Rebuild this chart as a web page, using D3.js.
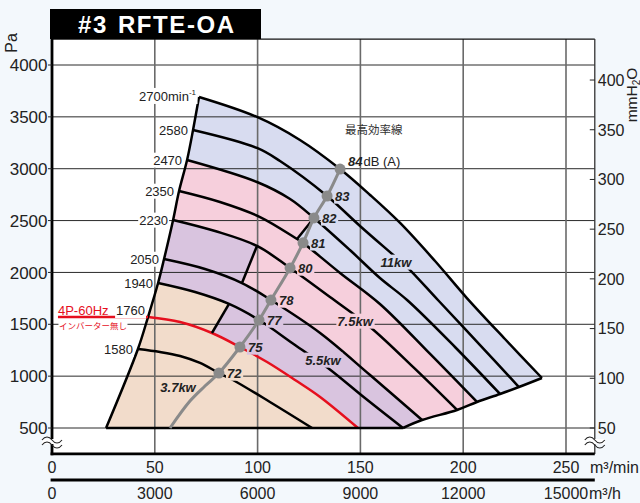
<!DOCTYPE html>
<html><head><meta charset="utf-8">
<script src="https://cdn.jsdelivr.net/npm/d3@7"></script>
<style>
html,body{margin:0;padding:0;background:#f3f8fc;}
svg{display:block;font-family:"Liberation Sans",Arial,Helvetica,sans-serif;}
</style></head><body>
<svg id="c" width="640" height="503"></svg>
<script>
// ---------- data ----------
const title = "#3 RFTE-OA";
const paTicks = [500,1000,1500,2000,2500,3000,3500,4000];
const mmTicks = [50,100,150,200,250,300,350,400];
const flowMinTicks = [0,50,100,150,200,250];
const flowHourTicks = [0,3000,6000,9000,12000,15000];
const speeds = [2700,2580,2470,2350,2230,2050,1940,1760,1580];
// speed curves: [flow m3/min, static pressure Pa]
const c2700 = [[71.5,3692],[99.7,3499],[120.6,3277],[140.1,2997],[154.7,2747],[169.3,2477],[186.3,2110],[201.8,1753],[220.3,1358],[238.3,982]];
const c2580 = [[68.6,3373],[99.7,3200],[110.9,3074],[133.8,2737],[149.8,2448],[165.4,2178],[172.7,2052],[187.7,1734],[208.2,1300],[227.1,895]];
const c2470 = [[65.7,3084],[99.7,2872],[115.8,2708],[127.4,2525],[144.9,2216],[159.5,1946],[172.7,1734],[196.0,1281],[217.9,828]];
const c2350 = [[61.8,2785],[81.7,2679],[101.2,2534],[119.2,2322],[122.1,2285],[140.1,1995],[159.5,1696],[183.9,1214],[206.7,751]];
const c2230 = [[58.9,2506],[79.3,2399],[99.7,2255],[115.8,2043],[135.2,1763],[154.7,1474],[176.1,1079],[197.0,674]];
const c2050 = [[54.5,2129],[74.4,2033],[92.4,1898],[106.5,1734],[130.4,1416],[154.7,1011],[180.0,577]];
const c1940 = [[51.6,1898],[69.6,1811],[86.1,1696],[100.7,1541],[118.2,1300],[134.2,1079],[152.2,789],[170.7,500]];
const c1760 = [[46.7,1570],[62.3,1522],[77.8,1416],[91.4,1281],[104.6,1136],[118.2,963],[130.4,799],[148.8,500]];
const c1580 = [[41.8,1262],[52.5,1233],[62.3,1194],[72.0,1127],[81.2,1030],[88.0,963],[106.0,751],[126.5,500]];
const surgeBottom = [26.3,500];
const inverterLineStart = [2.9,1570];
// max-efficiency line
const effDb = [84,83,82,81,80,78,77,75,72];
const effPoints = [[140.1,2997],[133.8,2737],[127.4,2525],[122.1,2285],[115.8,2043],[106.5,1734],[100.7,1541],[91.4,1281],[81.2,1030]];
const effTail = [[74.4,905],[67.1,760],[57.4,500]];
// motor power labels
const kwNames = ["11kw","7.5kw","5.5kw","3.7kw"];
const kwAt = [[167.3,2101],[147.4,1532],[131.8,1156],[61.3,895]];

// ---------- styles ----------
const COL = {blue:"#d8dcf0", pink:"#f6cfdc", lav:"#d9c4df", peach:"#f2dccb", red:"#e60f1e", gray:"#8a8a8a"};
const kwBg = [COL.blue, COL.pink, COL.lav, null];
const dotBg = [null, COL.blue, COL.blue, COL.blue, COL.pink, COL.pink, COL.lav, COL.lav, COL.peach];

// ---------- scales ----------
const svg = d3.select("#c");
const x = d3.scaleLinear().domain([0,250]).range([52,566]);
const xh = d3.scaleLinear().domain([0,15000]).range([52,566]);
const y = d3.scaleLinear().domain([500,4000]).range([428,65]);
const yMm = d3.scaleLinear().domain([50,400]).range([y(500), y(3855)]);
const L = x(0), R = x(264), T = y(4250), B = y(250);

const sm = d3.line().x(d=>x(d[0])).y(d=>y(d[1])).curve(d3.curveCatmullRom.alpha(0.5));
const st = d3.line().x(d=>x(d[0])).y(d=>y(d[1]));
const cont = p => p.replace(/^M/,"L");

const curves = [c2700,c2580,c2470,c2350,c2230,c2050,c1940,c1760,c1580];
const surge = [surgeBottom, ...curves.slice().reverse().map(c=>c[0])];
const rbCurves = [c1940,c2050,c2230,c2350,c2470,c2580,c2700];
const rb = rbCurves.map(c=>c[c.length-1]);

// plot background
svg.append("rect").attr("x",L).attr("y",T).attr("width",R-L).attr("height",B-T).attr("fill","#fff");

// ---------- filled motor regions ----------
function layerPath(parts, rbIdx, surgeIdx){
  let d = sm(parts[0]);
  for (let i=1;i<parts.length;i++) d += cont(sm(parts[i]));
  if (rbIdx!==null) d += cont(sm(rb.slice(0,rbIdx+1).reverse()));
  d += "L"+x(surgeBottom[0])+","+y(surgeBottom[1]);
  d += cont(sm(surge.slice(0,surgeIdx+1)));
  return d+"Z";
}
const layers = [
  {parts:[c2700], rb:6, s:9, fill:COL.blue},
  {parts:[c2470.slice(0,4), c2350.slice(3)], rb:3, s:7, fill:COL.pink},
  {parts:[c2230.slice(0,3), c2050.slice(2)], rb:1, s:5, fill:COL.lav},
  {parts:[c1940.slice(0,3), c1760.slice(2)], rb:null, s:3, fill:COL.peach}
];
svg.append("g").selectAll("path").data(layers).join("path")
  .attr("d", l=>layerPath(l.parts,l.rb,l.s)).attr("fill", l=>l.fill).attr("stroke","none");

// ---------- grid ----------
const grid = svg.append("g");
grid.selectAll(".h").data(paTicks).join("line")
  .attr("x1",L).attr("x2",R).attr("y1",d=>y(d)).attr("y2",d=>y(d))
  .attr("stroke","#2a2a2a").attr("stroke-width",1);
grid.selectAll(".v").data(flowMinTicks.slice(1)).join("line")
  .attr("x1",d=>x(d)).attr("x2",d=>x(d)).attr("y1",T).attr("y2",B)
  .attr("stroke","#6a6a6a").attr("stroke-width",1.6);

// ---------- curves ----------
const cg = svg.append("g").attr("fill","none").attr("stroke-linejoin","round");
cg.selectAll("path.sp").data(curves).join("path")
  .attr("d", d=>sm(d)).attr("stroke",(d,i)=>speeds[i]===1760?COL.red:"#000").attr("stroke-width",2.5);
cg.append("path").attr("d", sm(surge)).attr("stroke","#000").attr("stroke-width",2.5);
cg.append("path").attr("d", sm(rb)).attr("stroke","#000").attr("stroke-width",2.5);
cg.append("path").attr("d", st([surgeBottom, c1940[c1940.length-1]])).attr("stroke","#000").attr("stroke-width",2.5);
[[c2470[3],c2350[3]],[c2230[2],c2050[2]],[c1940[2],c1760[2]]].forEach(s=>{
  cg.append("path").attr("d", st(s)).attr("stroke","#000").attr("stroke-width",2.5);
});
cg.append("path").attr("d", st([inverterLineStart, c1760[0]])).attr("stroke",COL.red).attr("stroke-width",2.5);

// ---------- label helper ----------
function bgText(parent, bg, pad){
  const g = parent.append("g");
  const r = g.append("rect");
  const t = g.append("text");
  return {g, r, t, fit(){ if(!bg){r.remove();return;} const b=t.node().getBBox();
    r.attr("x",b.x-pad).attr("y",b.y-pad+1).attr("width",b.width+2*pad).attr("height",b.height+2*pad-2).attr("fill",bg);} };
}
const lab = svg.append("g");

// speed labels
speeds.forEach((s,i)=>{
  const p = curves[i][0], px = x(p[0]), py = y(p[1]);
  const o = bgText(lab, "#fff", 1);
  o.t.attr("font-size",13).attr("fill","#222").attr("text-anchor","end");
  if (s===2700){
    o.t.attr("x",px-3).attr("y",py+4);
    o.t.append("tspan").text("2700min");
    o.t.append("tspan").attr("font-size",8).attr("dy",-6).text("-1");
  } else if (s===1760){
    o.t.attr("x",px-3).attr("y",py-2).text("1760");
  } else {
    o.t.attr("x",px-5).attr("y",py).attr("dy","0.36em").text(s);
  }
  o.fit();
});
// inverter note
{
  const p = c1760[0];
  lab.append("text").attr("x",x(inverterLineStart[0])).attr("y",y(p[1])-2)
    .attr("font-size",13).attr("fill",COL.red).text("4P-60Hz");
  const o = bgText(lab, "#fff", 0.5);
  o.t.attr("x",x(inverterLineStart[0])+1).attr("y",y(p[1])+12)
    .attr("font-size",8.5).attr("fill",COL.red)
    .attr("font-family","'Noto Sans CJK JP',sans-serif").text("インバーター無し");
  o.fit();
}

// ---------- max efficiency line ----------
svg.append("path").attr("d", sm(effPoints.concat(effTail))).attr("fill","none")
  .attr("stroke",COL.gray).attr("stroke-width",3);
svg.append("g").selectAll("circle").data(effPoints).join("circle")
  .attr("cx",d=>x(d[0])).attr("cy",d=>y(d[1])).attr("r",5.5).attr("fill",COL.gray);

effPoints.forEach((p,i)=>{
  const px=x(p[0]), py=y(p[1]);
  const o = bgText(lab, dotBg[i], 1);
  o.t.attr("font-size",13).attr("font-weight","bold").attr("font-style","italic").attr("fill","#222");
  if (i===0){
    o.t.attr("x",px+8).attr("y",py-3);
    o.t.append("tspan").text(effDb[i]);
    o.t.append("tspan").attr("font-weight","normal").attr("font-style","normal").attr("dx",1).text("dB (A)");
  } else {
    o.t.attr("x",px+8).attr("y",py).attr("dy","0.36em").text(effDb[i]);
  }
  o.fit();
});
lab.append("text").attr("x",x(effPoints[0][0])+5).attr("y",y(effPoints[0][1])-35)
  .attr("font-size",11.5).attr("fill","#333").attr("font-family","'Noto Sans CJK JP',sans-serif").text("最高効率線");

// kw labels
kwNames.forEach((k,i)=>{
  const o = bgText(lab, kwBg[i], 1);
  o.t.attr("x",x(kwAt[i][0])).attr("y",y(kwAt[i][1])).attr("dy","0.36em").attr("text-anchor","middle")
    .attr("font-size",13).attr("font-weight","bold").attr("font-style","italic").attr("fill","#222").text(k);
  o.fit();
});

// ---------- axes / frame ----------
const ax = svg.append("g");
ax.append("line").attr("x1",L).attr("x2",R).attr("y1",T).attr("y2",T).attr("stroke","#111").attr("stroke-width",1.2);
ax.append("line").attr("x1",R).attr("x2",R).attr("y1",T).attr("y2",B).attr("stroke","#333").attr("stroke-width",1.3);
ax.append("line").attr("x1",L).attr("x2",L).attr("y1",T).attr("y2",B+1.3).attr("stroke","#000").attr("stroke-width",2.8);
ax.append("line").attr("x1",L-1.4).attr("x2",R).attr("y1",B).attr("y2",B).attr("stroke","#000").attr("stroke-width",2.8);
ax.append("line").attr("x1",L-1.4).attr("x2",R).attr("y1",480).attr("y2",480).attr("stroke","#000").attr("stroke-width",2.8);

// left ticks
ax.selectAll(".lt").data(paTicks).join("line").attr("x1",L-4).attr("x2",L).attr("y1",d=>y(d)).attr("y2",d=>y(d)).attr("stroke","#222");
ax.selectAll(".ll").data(paTicks).join("text").attr("x",L-4.5).attr("y",d=>y(d)).attr("dy","0.36em")
  .attr("text-anchor","end").attr("font-size",17).attr("fill","#222").text(d=>d);
// right ticks
ax.selectAll(".rt").data(mmTicks).join("line").attr("x1",R-5).attr("x2",R).attr("y1",d=>yMm(d)).attr("y2",d=>yMm(d)).attr("stroke","#222");
ax.selectAll(".rl").data(mmTicks).join("text").attr("x",R+3).attr("y",d=>yMm(d)).attr("dy","0.36em")
  .attr("font-size",16).attr("fill","#222").text(d=>d);
// bottom labels
ax.selectAll(".b1").data(flowMinTicks).join("text").attr("x",d=>x(d)).attr("y",473)
  .attr("text-anchor","middle").attr("font-size",16).attr("fill","#222").text(d=>d);
ax.append("text").attr("x",x(250)+24).attr("y",473).attr("font-size",16).attr("fill","#222").text("m³/min");
ax.selectAll(".b2").data(flowHourTicks).join("text").attr("x",d=>xh(d)).attr("y",499)
  .attr("text-anchor","middle").attr("font-size",16).attr("fill","#222").text(d=>d);
ax.append("text").attr("x",xh(15000)+23).attr("y",499).attr("font-size",16).attr("fill","#222").text("m³/h");

// axis units
ax.append("text").attr("transform",`translate(${L-35},43) rotate(-90)`).attr("text-anchor","middle")
  .attr("font-size",16).attr("fill","#222").text("Pa");
{
  const t = ax.append("text").attr("transform",`translate(636.5,95) rotate(-90)`).attr("text-anchor","middle")
    .attr("font-size",15.5).attr("fill","#222");
  t.append("tspan").text("mmH");
  t.append("tspan").attr("font-size",10).attr("dy",3).text("2");
  t.append("tspan").attr("dy",-3).text("O");
}

// axis breaks
function brk(cx, cy){
  const g = ax.append("g");
  g.append("rect").attr("x",cx-10).attr("y",cy-2).attr("width",20).attr("height",5).attr("fill","#fff");
  [cy-2, cy+3].forEach(yy=>{
    g.append("path").attr("d",`M${cx-10},${yy+1} c3,-4 7,-4 10,0 s7,4 10,0`).attr("fill","none").attr("stroke","#222").attr("stroke-width",1.1);
  });
}
brk(L, 441); brk(R, 441);

// title
svg.append("rect").attr("x",50).attr("y",9).attr("width",211).attr("height",30).attr("fill","#000");
{
  const parts = title.split(" ");
  const t = svg.append("text").attr("x",78).attr("y",33).attr("font-size",24).attr("font-weight","bold")
    .attr("letter-spacing",1.6).attr("fill","#fff");
  t.append("tspan").text(parts[0]);
  t.append("tspan").attr("dx",10).text(parts.slice(1).join(" "));
}
</script>
</body></html>
